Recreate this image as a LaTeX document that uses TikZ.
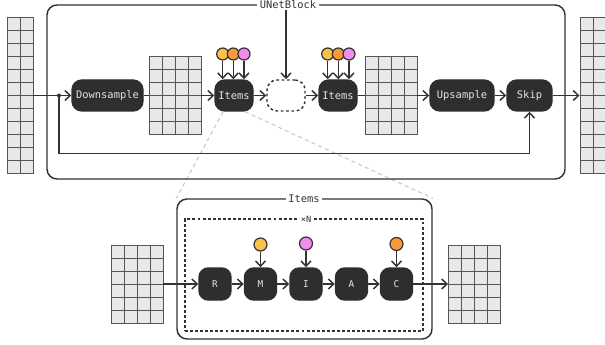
\documentclass[tikz,border=0pt]{standalone}
\usepackage{fontspec}
\setmonofont{DejaVu Sans Mono}
\usetikzlibrary{arrows.meta, calc, backgrounds}

\definecolor{ink}{HTML}{333333}
\definecolor{blockfill}{HTML}{2E2E2E}
\definecolor{cellfill}{HTML}{E8E8E8}
\definecolor{cellline}{HTML}{555555}
\definecolor{condA}{HTML}{FBC04A}
\definecolor{condB}{HTML}{F89A3C}
\definecolor{condC}{HTML}{F08CEE}
\definecolor{zoomline}{HTML}{CCCCCC}

\begin{document}
\begin{tikzpicture}[
    x = 0.75pt, y = -0.75pt,
    line width = 1.1pt,
    color = ink,
    >= {Straight Barb[length = 4pt, width = 7.5pt]},
    %
    layer/.style = {fill = blockfill, draw = blockfill,
      text = white!90!black,
      rounded corners = 7.5pt,
      minimum width = 28.5pt, minimum height = 23.25pt,
      inner sep = 0pt,
      font = \ttfamily\fontsize{7.8}{9}\selectfont},
    stage/.style = {layer,
      rounded corners = 7pt,
      minimum size = 24pt,
      font = \ttfamily\fontsize{7}{8}\selectfont},
    hole/.style = {draw = ink, fill = white,
      dash pattern = on 2pt off 2pt,
      rounded corners = 7.5pt,
      minimum width = 28.5pt, minimum height = 23.25pt},
    cond/.style = {circle, draw = ink, line width = 0.9pt,
      minimum size = 9pt, inner sep = 0pt},
    frame/.style = {draw = ink, rounded corners = 7.5pt},
    stack/.style = {draw = ink, line width = 1pt,
      dash pattern = on 2.2pt off 1.6pt},
    title/.style = {fill = white, text = ink,
      inner xsep = 2pt, inner ysep = 0.5pt,
      font = \ttfamily\fontsize{7.8}{9}\selectfont},
    zoomed/.style = {draw = zoomline, line width = 0.9pt,
      dash pattern = on 3pt off 2.5pt},
    %
    cells/.style 2 args = {draw = cellline, fill = cellfill,
      line width = 0.7pt, inner sep = 0pt,
      minimum width = {#1*9.75pt}, minimum height = {#2*9.75pt},
      path picture = {
        \foreach \i in {1,...,#1}
        \draw [cellline, line width = 0.7pt]
        (path picture bounding box.north west) ++(\i*13, 0) -- ++(0, #2*13);
        \foreach \j in {1,...,#2}
        \draw [cellline, line width = 0.7pt]
        (path picture bounding box.north west) ++(0, \j*13) -- ++(#1*13, 0);
      }},
    ]

    \useasboundingbox (0, 0) rectangle (605, 345);

    % UNetBlock
    \node at (306, 92)
    [frame, minimum width = 388.5pt, minimum height = 130.5pt, name = block] {};
    \node at (288, 5) [title, name = block_title] {UNetBlock};

    \node at (20, 95.5) [cells = {2}{12}, name = x_in] {};
    \node at (107.5, 95.5)
    [layer, minimum width = 53.25pt, name = down] {Downsample};
    \node at (175, 95.5) [cells = {4}{6}, name = x_down] {};
    \node at (234, 95.5) [layer, name = items_a] {Items};
    \node at (286, 95.5) [hole, name = mid] {};
    \node at (338, 95.5) [layer, name = items_b] {Items};
    \node at (391, 95.5) [cells = {4}{6}, name = x_mid] {};
    \node at (462, 95.5)
    [layer, minimum width = 48pt, name = up] {Upsample};
    \node at (529.5, 95.5)
    [layer, minimum width = 33.75pt, name = skip] {Skip};
    \node at (593, 95.5) [cells = {2}{12}, name = x_out] {};

    \node at (222.7, 54) [cond, fill = condA, name = a_1] {};
    \node at (233.3, 54) [cond, fill = condB, name = a_2] {};
    \node at (244, 54) [cond, fill = condC, name = a_3] {};
    \node at (327.7, 54) [cond, fill = condA, name = b_1] {};
    \node at (338.3, 54) [cond, fill = condB, name = b_2] {};
    \node at (349, 54) [cond, fill = condC, name = b_3] {};

    \foreach \c in {a_1, a_2, a_3}
    \draw [->] (\c) to (\c |- items_a.north);
    \foreach \c in {b_1, b_2, b_3}
    \draw [->] (\c) to (\c |- items_b.north);

    \coordinate (split) at (59, 95.5);

    \draw [->] (x_in) to (down);
    \fill [ink] (split) circle (1.5pt);
    \draw (down) to (x_down);
    \draw [->] (x_down) to (items_a);
    \draw [->] (items_a) to (mid);
    \draw [->] (mid) to (items_b);
    \draw (items_b) to (x_mid);
    \draw [->] (x_mid) to (up);
    \draw [->] (up) to (skip);
    \draw [->] (skip) to (x_out);
    \draw [->] (split) -- +(0, 58) -| (skip);
    \draw [->] (block_title.south -| mid.north) to (mid);

    % Items
    \node at (304.5, 269)
    [frame, minimum width = 191.25pt, minimum height = 105pt, name = items] {};
    \node at (304, 199) [title, name = items_title] {Items};
    \node at (304, 275)
    [stack, minimum width = 178.5pt, minimum height = 84pt, name = loop] {};
    \node at (306, 219)
    [title, font = \ttfamily\fontsize{6.5}{8}\selectfont, name = loop_title] {×N};

    \node at (137, 284) [cells = {4}{6}, name = h_in] {};
    \node at (215, 284) [stage, name = r] {R};
    \node at (260.5, 284) [stage, name = m] {M};
    \node at (306, 284) [stage, name = i] {I};
    \node at (351.5, 284) [stage, name = a] {A};
    \node at (396.5, 284) [stage, name = c] {C};
    \node at (474.5, 284) [cells = {4}{6}, name = h_out] {};

    \node at (260.5, 244.5) [cond, minimum size = 9.75pt, fill = condA, name = m_c] {};
    \node at (306, 243.5) [cond, minimum size = 9.75pt, fill = condC, name = i_c] {};
    \node at (396.5, 244) [cond, minimum size = 9.75pt, fill = condB, name = c_c] {};

    \draw [->] (m_c) to (m);
    \draw [->] (i_c) to (i);
    \draw [->] (c_c) to (c);

    \draw [->] (h_in) to (r);
    \draw [->] (r) to (m);
    \draw [->] (m) to (i);
    \draw [->] (i) to (a);
    \draw [->] (a) to (c);
    \draw [->] (c) to (h_out);

    \begin{scope}[on background layer]
      \draw [zoomed] ($(items_a.south) + (-11, 0)$) -- (items.north west);
      \draw [zoomed] ($(items_a.south) + (11, 0)$) -- (items.north east);
    \end{scope}

  \end{tikzpicture}
\end{document}
